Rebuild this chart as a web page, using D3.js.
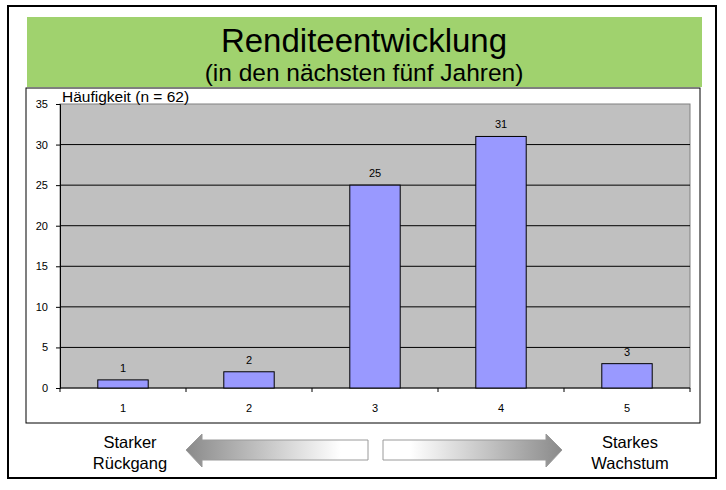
<!DOCTYPE html>
<html>
<head>
<meta charset="utf-8">
<script src="https://cdn.jsdelivr.net/npm/d3@7"></script>
<style>
  body { margin: 0; background: #fff; }
  text { font-family: Arial, "Liberation Sans", sans-serif; }
</style>
</head>
<body>
<div id="chart"></div>
<script>
// chart values
const categories = ["1", "2", "3", "4", "5"];
const counts = [1, 2, 25, 31, 3];
const yTicks = [0, 5, 10, 15, 20, 25, 30, 35];
const title = "Renditeentwicklung";
const subtitle = "(in den nächsten fünf Jahren)";
const yLabel = "Häufigkeit (n = 62)";
const leftLabel = ["Starker", "Rückgang"];
const rightLabel = ["Starkes", "Wachstum"];

const width = 726, height = 490;
const svg = d3.select("#chart").append("svg").attr("width", width).attr("height", height);

const defs = svg.append("defs");
const gl = defs.append("linearGradient").attr("id", "gradL").attr("x1", "0%").attr("x2", "100%");
gl.append("stop").attr("offset", "0%").attr("stop-color", "#8a8a8a");
gl.append("stop").attr("offset", "85%").attr("stop-color", "#ffffff");
const gr = defs.append("linearGradient").attr("id", "gradR").attr("x1", "0%").attr("x2", "100%");
gr.append("stop").attr("offset", "15%").attr("stop-color", "#ffffff");
gr.append("stop").attr("offset", "100%").attr("stop-color", "#8a8a8a");

// outer frame
svg.append("rect").attr("x", 8).attr("y", 6).attr("width", 708).attr("height", 472)
   .attr("fill", "#fff").attr("stroke", "#000").attr("stroke-width", 2);

// green title box
svg.append("rect").attr("x", 27).attr("y", 17).attr("width", 675).attr("height", 70)
   .attr("fill", "#a0d26e");
svg.append("text").attr("x", 364).attr("y", 52).attr("text-anchor", "middle")
   .style("font-size", "33px").text(title);
svg.append("text").attr("x", 364).attr("y", 81).attr("text-anchor", "middle")
   .style("font-size", "24.5px").text(subtitle);

// chart box
svg.append("rect").attr("x", 26).attr("y", 88).attr("width", 674).attr("height", 335)
   .attr("fill", "#fff").attr("stroke", "#000").attr("stroke-width", 1);

const plot = { left: 60, right: 690, top: 104, bottom: 388 };
const x = d3.scaleBand().domain(categories).range([plot.left, plot.right]).paddingInner(0.6).paddingOuter(0.3);
const xBand = d3.scaleBand().domain(categories).range([plot.left, plot.right]);
const y = d3.scaleLinear().domain([0, 35]).range([plot.bottom, plot.top]);

svg.append("rect").attr("x", plot.left).attr("y", plot.top)
   .attr("width", plot.right - plot.left).attr("height", plot.bottom - plot.top)
   .attr("fill", "#c0c0c0").attr("stroke", "#808080");

// gridlines
svg.append("g").selectAll("line").data(yTicks.filter(d => d > 0 && d < 35)).join("line")
   .attr("x1", plot.left).attr("x2", plot.right)
   .attr("y1", d => y(d)).attr("y2", d => y(d))
   .attr("stroke", "#000").attr("stroke-width", 1);

// y axis
const yAxis = svg.append("g").attr("transform", `translate(${plot.left},0)`)
   .call(d3.axisLeft(y).tickValues(yTicks).tickSize(4).tickPadding(8));
yAxis.select(".domain").attr("stroke", "#000");
yAxis.selectAll("text").style("font-size", "11px").attr("fill", "#000");

// x axis: ticks at band edges
const xAxisG = svg.append("g").attr("transform", `translate(0,${plot.bottom})`);
xAxisG.append("line").attr("x1", plot.left).attr("x2", plot.right).attr("stroke", "#000");
const edges = categories.map(c => xBand(c)).concat([plot.right]);
xAxisG.selectAll("line.tk").data(edges).join("line").attr("class", "tk")
   .attr("x1", d => d).attr("x2", d => d).attr("y1", 0).attr("y2", 4).attr("stroke", "#000");
xAxisG.selectAll("text").data(categories).join("text")
   .attr("x", d => xBand(d) + xBand.bandwidth() / 2).attr("y", 24)
   .attr("text-anchor", "middle").style("font-size", "11px").text(d => d);

// bars
svg.append("g").selectAll("rect").data(counts).join("rect")
   .attr("x", (d, i) => x(categories[i]))
   .attr("y", d => y(d))
   .attr("width", x.bandwidth())
   .attr("height", d => y(0) - y(d))
   .attr("fill", "#9999ff").attr("stroke", "#000").attr("stroke-width", 1);

svg.append("g").selectAll("text").data(counts).join("text")
   .attr("x", (d, i) => x(categories[i]) + x.bandwidth() / 2)
   .attr("y", d => y(d) - 8)
   .attr("text-anchor", "middle").style("font-size", "11px").text(d => d);

// y label
svg.append("text").attr("x", 62).attr("y", 102).style("font-size", "15.5px").text(yLabel);

// bottom labels
[[leftLabel, 130], [rightLabel, 630]].forEach(([lines, cx]) => {
  lines.forEach((t, i) => {
    svg.append("text").attr("x", cx).attr("y", 448 + i * 21).attr("text-anchor", "middle")
       .style("font-size", "16.5px").text(t);
  });
});

// arrows
const arrowL = `M186,450 L202,434 L202,440 L368,440 L368,460 L202,460 L202,467 Z`;
svg.append("path").attr("d", arrowL).attr("fill", "url(#gradL)").attr("stroke", "#9a9a9a").attr("stroke-width", 1);
const arrowR = `M562,450 L546,434 L546,440 L383,440 L383,460 L546,460 L546,467 Z`;
svg.append("path").attr("d", arrowR).attr("fill", "url(#gradR)").attr("stroke", "#9a9a9a").attr("stroke-width", 1);
</script>
</body>
</html>
